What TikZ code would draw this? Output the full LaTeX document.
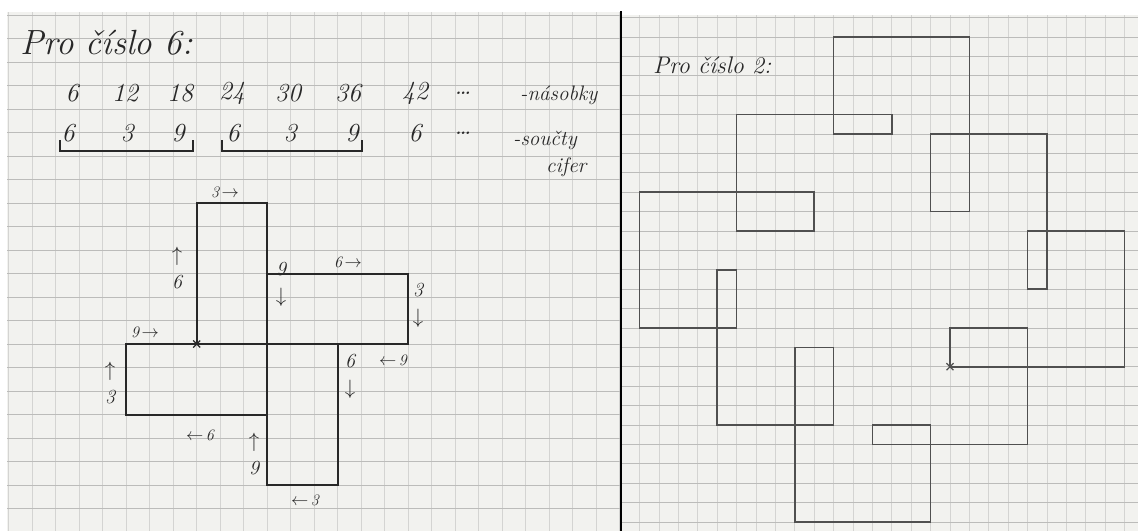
\documentclass[tikz,border=0pt]{standalone}
\usepackage{tikz}
\usepackage{xcolor}
\definecolor{paper}{RGB}{242,242,239}
\definecolor{gridh}{RGB}{188,188,186}
\definecolor{gridv}{RGB}{212,212,210}
\definecolor{ink}{RGB}{40,40,40}
\definecolor{pencil}{RGB}{80,80,80}
\tikzset{
  hand/.style={font=\itshape\fontsize{26}{26}\selectfont,text=ink,inner sep=0pt},
  handsmall/.style={font=\itshape\fontsize{16}{16}\selectfont,text=ink,inner sep=0pt},
  handstack/.style={font=\itshape\fontsize{20}{27}\selectfont,text=ink,inner sep=0pt,align=center},
  pathsix/.style={draw=ink,line width=2pt},
  pathtwo/.style={draw=pencil,line width=1.6pt},
}

\begin{document}
\begin{tikzpicture}[x=1pt,y=-1pt]
\useasboundingbox (0,0) rectangle (1138,531);
\fill[white] (0,0) rectangle (1138,531);
\fill[paper] (7,12) rectangle (620,531);
\fill[paper] (622,15) rectangle (1138,531);
% left sheet grid
\foreach \k in {-8,...,18}
  \draw[gridv,line width=0.7pt] ({196.7+23.5*\k},12) -- ++(0,519);
\foreach \k in {-7,...,14}
  \draw[gridh,line width=0.9pt] (7,{344-23.5*\k}) -- (620,{344-23.5*\k});
% right sheet grid
\foreach \k in {-16,...,9}
  \draw[gridv,line width=0.7pt] ({950+19.4*\k},15) -- ++(0,516);
\foreach \k in {-8,...,18}
  \draw[gridh,line width=0.8pt] (622,{366.7-19.4*\k}) -- (1138,{366.7-19.4*\k});
\draw[black,line width=1.4pt] (621,11) -- (621,531);

% number 6
\node[hand,anchor=west,font=\itshape\fontsize{35}{35}\selectfont] (title6) at (20,43) {Pro číslo 6:};
\foreach \v/\x [count=\i] in {6/72,12/125,18/180,24/232,30/288,36/348,42/415,\dots/463}
  \node[hand] (mult\i) at (\x,93) {\v};
\foreach \v/\x [count=\i] in {6/68,3/127,9/178,6/233,3/290,9/352,6/415,\dots/463}
  \node[hand] (sum\i) at (\x,133) {\v};
\node[hand,anchor=west,font=\itshape\fontsize{21}{21}\selectfont] (multlabel) at (520,95) {-násobky};
\node[hand,anchor=west,font=\itshape\fontsize{21}{21}\selectfont] (sumlabel) at (513,140) {-součty};
\node[hand,anchor=west,font=\itshape\fontsize{21}{21}\selectfont] (sumlabelb) at (546,167) {cifer};
\draw[ink,line width=1.1pt] (60,140) -- (60,151) -- (193,151) -- (193,140);
\draw[ink,line width=1.1pt] (222,140) -- (222,151) -- (362,151) -- (362,140);

\begin{scope}[shift={(196.7,344)},x=23.5pt,y=23.5pt]
\draw[pathsix] (0,0) \foreach \d [count=\i] in {6,3,9,6,3,9,6,3,9,6,3,9}
  { -- ++({180-90*\i}:\d) } -- cycle;
\end{scope}
\draw[pathsix,line width=1.3pt] (193.2,340.5) -- (200.2,347.5) (200.2,340.5) -- (193.2,347.5);

\node[handsmall] (lbla) at (225,192) {3\,$\rightarrow$};
\node[handstack] (lblb) at (177,268) {$\uparrow$\\6};
\node[handstack] (lblc) at (281,284) {9\\$\downarrow$};
\node[handsmall] (lbld) at (348,262) {6\,$\rightarrow$};
\node[handstack] (lble) at (418,305) {3\\$\downarrow$};
\node[handsmall] (lblf) at (393,360) {$\leftarrow$\,9};
\node[handsmall] (lblg) at (145,332) {9\,$\rightarrow$};
\node[handstack] (lblh) at (110,383) {$\uparrow$\\3};
\node[handstack] (lbli) at (350,376) {6\\$\downarrow$};
\node[handsmall] (lblj) at (200,435) {$\leftarrow$\,6};
\node[handstack] (lblk) at (254,454) {$\uparrow$\\9};
\node[handsmall] (lbll) at (305,500) {$\leftarrow$\,3};

% number 2
\node[hand,anchor=west,font=\itshape\fontsize{24}{24}\selectfont] (title2) at (653,65) {Pro číslo 2:};
\begin{scope}[shift={(950,366.7)},x=19.4pt,y=19.4pt]
\draw[pathtwo] (0,0) \foreach \d [count=\i] in
  {2,4,6,8,1,3,5,7,9,2,4,6,8,1,3,5,7,9,2,4,6,8,1,3,5,7,9,2,4,6,8,1,3,5,7,9}
  { -- ++({180-90*\i}:\d) } -- cycle;
\end{scope}
\draw[pathtwo,line width=1.3pt] (946.5,363.2) -- (953.5,370.2) (953.5,363.2) -- (946.5,370.2);
\end{tikzpicture}
\end{document}
